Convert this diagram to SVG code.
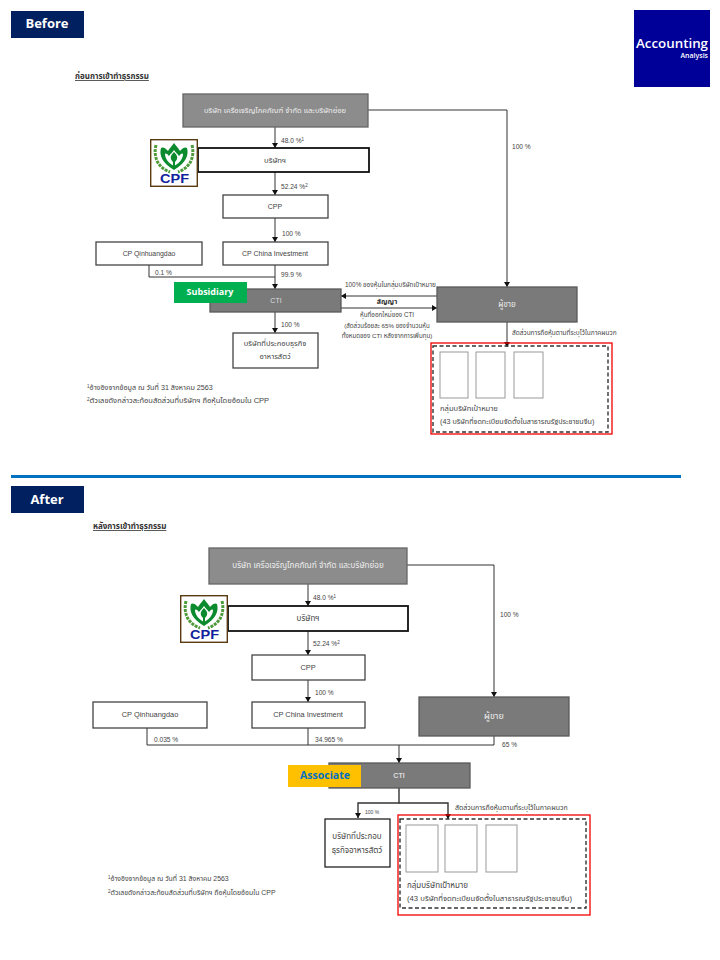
<svg xmlns="http://www.w3.org/2000/svg" width="720" height="960" viewBox="0 0 720 960">
<style>
text{font-family:"Liberation Sans","Noto Sans Thai","Noto Sans","DejaVu Sans",sans-serif;fill:#444;font-size:6.6px}
tspan.u{font-size:4.5px}
.m{text-anchor:middle}
.b{fill:#fff;stroke:#444;stroke-width:1.3}
.k{fill:#fff;stroke:#111;stroke-width:1.8}
.g{fill:#8c8c8c;stroke:#666;stroke-width:1.3}
.d{fill:#7a7a7a;stroke:#5a5a5a;stroke-width:1.3}
.s{fill:#fff;stroke:#999;stroke-width:1}
.r{fill:none;stroke:#f00000;stroke-width:1.3}
.h{fill:none;stroke:#333;stroke-width:1.4;stroke-dasharray:4 2.5}
.l{fill:none;stroke:#333;stroke-width:1}
.hd{fill:#002060}
.ht{font-family:"Open Sans","Liberation Sans",sans-serif;font-weight:700;font-size:13px;fill:#fff}
.t{font-weight:700;font-size:8px;text-decoration:underline;fill:#333}
</style>
<defs>
<marker id="a" markerWidth="6" markerHeight="6" refX="5" refY="3" orient="auto" markerUnits="userSpaceOnUse"><path d="M0 0L5 3L0 6Z" fill="#111"/></marker>
<g id="logo">
<rect x="0.7" y="0.7" width="46.6" height="46.6" fill="#fff" stroke="#5a3a10" stroke-width="1.4"/>
<path d="M24 4C21 8 19 10 18 12C15 8 12 8 11 9C9 16 12 24 24 31C36 24 39 16 37 9C36 8 33 8 30 12C29 10 27 8 24 4Z" fill="#0b8a2e"/>
<path d="M24 11C22 14 20 15 19 17C17 14 15 14 15 15C15 19 18 24 24 27C30 24 33 19 33 15C33 14 31 14 29 17C28 15 26 14 24 11Z" fill="#fff"/>
<path d="M24 13C21 16 19 19 23 23V28H25V23C29 19 27 16 24 13Z" fill="#0b8a2e"/>
<path d="M6 6C3 18 8 29 20 33M42 6C45 18 40 29 28 33" fill="none" stroke="#4f9a3a" stroke-width="3" stroke-dasharray="3 1"/>
<text x="10" y="44" textLength="29" lengthAdjust="spacingAndGlyphs" style="font-size:12px;font-weight:700;fill:#10229c;font-family:'Liberation Sans',sans-serif">CPF</text>
</g>
</defs>

<rect id="header-before" class="hd" x="11" y="11" width="73" height="27"/>
<text class="ht m" x="47" y="28">Before</text>
<g id="brand"><rect x="634" y="10" width="76" height="77" fill="#000099"/>
<text x="636" y="48" textLength="72" lengthAdjust="spacingAndGlyphs" style="font-family:'Open Sans','Liberation Sans',sans-serif;font-size:12.5px;font-weight:600;fill:#fff">Accounting</text>
<text x="708" y="58" text-anchor="end" style="font-family:'Open Sans','Liberation Sans',sans-serif;font-size:7px;font-weight:600;fill:#fff">Analysis</text></g>
<text class="t" x="75" y="79">ก่อนการเข้าทำธุรกรรม</text>

<g id="connectors-before">
<path class="l" marker-end="url(#a)" d="M275 127V148"/>
<path class="l" marker-end="url(#a)" d="M275 172V195"/>
<path class="l" marker-end="url(#a)" d="M275 218V242"/>
<path class="l" marker-end="url(#a)" d="M275 265V289"/>
<path class="l" d="M149 265V277H275"/>
<path class="l" marker-end="url(#a)" d="M275 312V333"/>
<path class="l" marker-end="url(#a)" d="M368 110H507V287"/>
<path class="l" marker-end="url(#a)" d="M437 296H341"/>
<path class="l" marker-end="url(#a)" d="M341 308H437"/>
<path class="l" marker-end="url(#a)" d="M507 322V347"/>
</g>
<g id="top-before"><rect class="g" x="183" y="94" width="185" height="33"/><text class="m" x="275" y="113" style="fill:#eee;font-size:7.6px">บริษัท เครือเจริญโภคภัณฑ์ จำกัด และบริษัทย่อย</text></g>
<g id="company-before"><rect class="k" x="198" y="148" width="171" height="24"/><text class="m" x="275" y="163" style="font-size:7.7px">บริษัทฯ</text></g>
<use id="logo-before" href="#logo" x="150" y="139"/>
<g id="cpp-before"><rect class="b" x="223" y="195" width="105" height="23"/><text class="m" x="275" y="209" style="font-size:7px">CPP</text></g>
<g id="china-before"><rect class="b" x="223" y="242" width="105" height="23"/><text class="m" x="275" y="256" style="font-size:7px">CP China Investment</text></g>
<g id="qin-before"><rect class="b" x="96" y="242" width="106" height="23"/><text class="m" x="149" y="256" style="font-size:6.9px">CP Qinhuangdao</text></g>
<g id="cti-before"><rect class="d" x="210" y="289" width="131" height="23"/><text class="m" x="276" y="303" style="fill:#ddd;font-size:7px">CTI</text></g>
<g id="sub"><rect x="174" y="282" width="73" height="21" fill="#00b050"/><text class="m" x="210" y="294.500" style="fill:#fff;font-weight:700;font-size:9px;font-family:'Open Sans','Liberation Sans',sans-serif">Subsidiary</text></g>
<g id="biz-before"><rect class="b" x="233" y="333" width="85" height="35"/><text class="m" x="275" y="346" style="font-size:7.5px">บริษัทที่ประกอบธุรกิจ</text><text class="m" x="275" y="359" style="font-size:7.5px">อาหารสัตว์</text></g>
<g id="seller-before"><rect class="d" x="437" y="287" width="140" height="35"/><text class="m" x="507" y="307" style="fill:#eee;font-size:8px">ผู้ขาย</text></g>
<g id="target-before"><rect class="r" x="431" y="343" width="181" height="91"/><rect class="h" x="433" y="346" width="175" height="86"/>
<rect class="s" x="440" y="352" width="28" height="46"/><rect class="s" x="476" y="352" width="29" height="46"/><rect class="s" x="514" y="352" width="29" height="46"/>
<text x="440" y="411" style="font-size:7.6px">กลุ่มบริษัทเป้าหมาย</text><text x="440" y="424" style="font-size:7.2px">(43 บริษัทที่จดทะเบียนจัดตั้งในสาธารณรัฐประชาชนจีน)</text></g>
<g id="labels-before">
<text x="281" y="143">48.0 %<tspan class="u" dy="-2">1</tspan></text><text x="281" y="189">52.24 %<tspan class="u" dy="-2">2</tspan></text><text x="282" y="236">100 %</text><text x="155" y="274.500">0.1 %</text><text x="281" y="277">99.9 %</text><text x="281" y="327">100 %</text><text x="512" y="149">100 %</text>
<text x="345" y="287" style="font-size:6.4px">100% ของหุ้นในกลุ่มบริษัทเป้าหมาย</text>
<text class="m" x="387" y="304" style="font-weight:700;font-size:7px;fill:#333">สัญญา</text>
<text class="m" x="387" y="317" style="font-size:6.3px">หุ้นที่ออกใหม่ของ CTI</text>
<text class="m" x="387" y="328" style="font-size:6.2px">(สัดส่วนร้อยละ 65% ของจำนวนหุ้น</text>
<text class="m" x="387" y="338" style="font-size:6.2px">ทั้งหมดของ CTI หลังจากการเพิ่มทุน)</text>
<text x="512" y="335" style="font-size:6.5px">สัดส่วนการถือหุ้นตามที่ระบุไว้ในภาคผนวก</text>
<text x="87" y="390" style="font-size:7.2px"><tspan class="u" dy="-2">1</tspan><tspan dy="2">อ้างอิงจากข้อมูล ณ วันที่ 31 สิงหาคม 2563</tspan></text>
<text x="87" y="403" style="font-size:7.5px"><tspan class="u" dy="-2">2</tspan><tspan dy="2">ตัวเลขดังกล่าวสะท้อนสัดส่วนที่บริษัทฯ ถือหุ้นโดยอ้อมใน CPP</tspan></text>
</g>

<rect id="divider" x="11" y="475" width="670" height="3" fill="#0070c0"/>
<rect id="header-after" class="hd" x="11" y="486" width="73" height="27"/>
<text class="ht m" x="47" y="504">After</text>
<text class="t" x="93" y="529">หลังการเข้าทำธุรกรรม</text>

<g id="connectors-after">
<path class="l" marker-end="url(#a)" d="M308 584V606"/>
<path class="l" marker-end="url(#a)" d="M308 631V655"/>
<path class="l" marker-end="url(#a)" d="M308 680V702"/>
<path class="l" d="M147 728V745H494V736M308 728V745"/>
<path class="l" marker-end="url(#a)" d="M399 745V763"/>
<path class="l" marker-end="url(#a)" d="M407 565H494V697"/>
<path class="l" style="stroke-width:1.4" marker-end="url(#a)" d="M399 788V803H358V818"/>
<path class="l" style="stroke-width:1.4" marker-end="url(#a)" d="M399 803H448V819"/>
</g>
<g id="top-after"><rect class="g" x="209" y="548" width="198" height="36"/><text class="m" x="308" y="568" style="fill:#eee;font-size:8.1px">บริษัท เครือเจริญโภคภัณฑ์ จำกัด และบริษัทย่อย</text></g>
<g id="company-after"><rect class="k" x="228" y="606" width="180" height="25"/><text class="m" x="308" y="621" style="font-size:8px">บริษัทฯ</text></g>
<use id="logo-after" href="#logo" x="180" y="595"/>
<g id="cpp-after"><rect class="b" x="252" y="655" width="113" height="25"/><text class="m" x="308" y="670" style="font-size:7.4px">CPP</text></g>
<g id="china-after"><rect class="b" x="252" y="702" width="113" height="26"/><text class="m" x="308" y="717" style="font-size:7.4px">CP China Investment</text></g>
<g id="qin-after"><rect class="b" x="93" y="702" width="114" height="26"/><text class="m" x="150" y="717" style="font-size:7.4px">CP Qinhuangdao</text></g>
<g id="seller-after"><rect class="d" x="419" y="697" width="150" height="39"/><text class="m" x="494" y="719" style="fill:#eee;font-size:9px">ผู้ขาย</text></g>
<g id="cti-after"><rect class="d" x="329" y="763" width="141" height="25"/><text class="m" x="399" y="778" style="fill:#ddd;font-weight:700;font-size:7px">CTI</text></g>
<g id="assoc"><rect x="288" y="765" width="73" height="22" fill="#ffc000"/><text class="m" x="325" y="779" style="fill:#0070c0;font-weight:700;font-size:10.5px;font-family:'Open Sans','Liberation Sans',sans-serif">Associate</text></g>
<g id="biz-after"><rect class="b" x="325" y="819" width="65" height="48" style="stroke:#222"/><text class="m" x="357" y="839" style="font-size:8px">บริษัทที่ประกอบ</text><text class="m" x="357" y="853" style="font-size:8px">ธุรกิจอาหารสัตว์</text></g>
<g id="target-after"><rect class="r" x="398" y="815" width="192" height="100"/><rect class="h" x="400" y="819" width="186" height="89"/>
<rect class="s" x="406" y="825" width="32" height="47"/><rect class="s" x="445" y="825" width="32" height="47"/><rect class="s" x="486" y="825" width="31" height="47"/>
<text x="407" y="888" style="font-size:8px">กลุ่มบริษัทเป้าหมาย</text><text x="407" y="901" style="font-size:7.7px">(43 บริษัทที่จดทะเบียนจัดตั้งในสาธารณรัฐประชาชนจีน)</text></g>
<g id="labels-after">
<text x="313" y="600">48.0 %<tspan class="u" dy="-2">1</tspan></text><text x="313" y="646">52.24 %<tspan class="u" dy="-2">2</tspan></text><text x="315" y="695">100 %</text><text x="154" y="741.500">0.035 %</text><text x="315" y="741.500">34.965 %</text><text x="500" y="617">100 %</text><text x="502" y="747">65 %</text>
<text x="365" y="814" style="font-size:5px">100 %</text>
<text x="455" y="810" style="font-size:7px">สัดส่วนการถือหุ้นตามที่ระบุไว้ในภาคผนวก</text>
<text x="108" y="881" style="font-size:6.9px"><tspan class="u" dy="-2">1</tspan><tspan dy="2">อ้างอิงจากข้อมูล ณ วันที่ 31 สิงหาคม 2563</tspan></text>
<text x="108" y="895" style="font-size:6.9px"><tspan class="u" dy="-2">2</tspan><tspan dy="2">ตัวเลขดังกล่าวสะท้อนสัดส่วนที่บริษัทฯ ถือหุ้นโดยอ้อมใน CPP</tspan></text>
</g>
</svg>
